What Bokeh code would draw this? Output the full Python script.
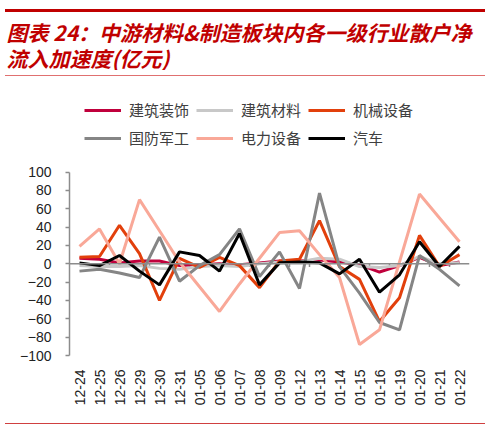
import numpy as np
from bokeh.plotting import figure
from bokeh.layouts import column
from bokeh.models import (Range1d, FixedTicker, Span, Legend, LegendItem, ColumnDataSource,
                          Div, Spacer)
from bokeh.core.properties import value
from bokeh.embed import file_html
from bokeh.resources import INLINE

# ---------------- data ----------------
dates = ["12-24", "12-25", "12-26", "12-29", "12-30", "12-31", "01-05", "01-06",
         "01-07", "01-08", "01-09", "01-12", "01-13", "01-14", "01-15", "01-16",
         "01-19", "01-20", "01-21", "01-22"]
jianzhu_zhuangshi = [6, 5, 1, 3, 3, -2, -1, 0, -1, 1, 3, 3, 4, 2, -1, -9, -2, 7, -2, 2]
jianzhu_cailiao = [-2, -3, -3, -2, -5, -6, -3, -2, -3, 0, 2, 2, 6, 5, -3, -4, -2, 8, 0, 1]
jixie_shebei = [7, 8, 42, 11, -40, 6, -4, 7, -2, -26, 3, 5, 47, -3, -17, -63, -37, 31, -3, 10]
guofang_jungong = [-8, -6, -10, -15, 29, -19, -2, 10, 38, -14, 13, -27, 77, -3, -32, -64, -72, 9, -6, -24]
dianli_shebei = [19, 38, 0, 70, 36, 2, -25, -52, -22, 6, 34, 36, 10, -15, -88, -72, 2, 76, 50, 24]
qiche = [1, -2, 9, -8, -23, 13, 9, -8, 33, -23, 1, 2, 1, -11, 5, -31, -12, 24, -3, 19]

series_names = ["建筑装饰", "建筑材料", "机械设备", "国防军工", "电力设备", "汽车"]
series_values = [jianzhu_zhuangshi, jianzhu_cailiao, jixie_shebei,
                 guofang_jungong, dianli_shebei, qiche]
series_colors = ["#C0003C", "#C8C8C8", "#E2400C", "#858585", "#F9A898", "#000000"]

y_ticks = [100, 80, 60, 40, 20, 0, -20, -40, -60, -80, -100]
y_tick_labels = ["100", "80", "60", "40", "20", "0", "−20", "−40", "−60", "−80", "−100"]

title_line1 = "图表 24：中游材料&制造板块内各一级行业散户净"
title_line2 = "流入加速度(亿元)"
source_text = "来源：WIND，中泰证券研究所"

# ---------------- layout constants ----------------
W = 480
HEAD_H = 53
MAIN_H = 318
FOOT_H = 20
RED = "#C00000"
CJK = "Noto Sans CJK SC"

def blank_fig(h):
    f = figure(width=W, height=h, output_backend="svg", toolbar_location=None,
               x_range=Range1d(0, W), y_range=Range1d(0, h),
               x_axis_type=None, y_axis_type=None, title=None,
               min_border=0, min_border_left=0, min_border_right=0,
               min_border_top=0, min_border_bottom=0, frame_align=False)
    f.outline_line_color = None
    f.xgrid.visible = False
    f.ygrid.visible = False
    return f

def rule(h, color):
    return Div(text="", width=W, height=h,
               styles={"background-color": color, "overflow": "hidden"})

# ---------------- header ----------------
head = blank_fig(HEAD_H)
head.text(x=[6], y=[HEAD_H - 14], text=[title_line1], text_font=value(CJK),
          text_font_size="21px", text_font_style="bold italic", text_color=RED,
          text_baseline="middle")
head.text(x=[6], y=[HEAD_H - 40], text=[title_line2], text_font=value(CJK),
          text_font_size="21px", text_font_style="bold italic", text_color=RED,
          text_baseline="middle")

# ---------------- main chart ----------------
FL, FR = 69, 11
FRAME_H = 268
px_100 = 82.5                      # pixel offset of +100 below frame top
px_per_unit = (FRAME_H - px_100) / 200.0
y_top = 100 + px_100 / px_per_unit

n = len(dates)
xs = list(range(n))

p = figure(width=W, height=MAIN_H, output_backend="svg", toolbar_location=None,
           x_range=Range1d(-0.5, n - 0.5), y_range=Range1d(-100, y_top),
           min_border_left=FL, min_border_right=FR, min_border_top=0,
           min_border_bottom=MAIN_H - FRAME_H, title=None, frame_align=False)
p.outline_line_color = None
p.xgrid.visible = False
p.ygrid.visible = False

ya = p.yaxis[0]
ya.ticker = FixedTicker(ticks=y_ticks)
ya.bounds = (-100, 100)
ya.major_label_overrides = {t: l for t, l in zip(y_ticks, y_tick_labels)}
ya.axis_line_color = "#8C8C8C"
ya.axis_line_width = 1.5
ya.major_tick_line_color = "#8C8C8C"
ya.major_tick_line_width = 1.5
ya.major_tick_out = 4
ya.major_tick_in = 0
ya.minor_tick_line_color = None
ya.major_label_standoff = 14
ya.major_label_text_font = "Liberation Sans"
ya.major_label_text_font_size = "14px"
ya.major_label_text_color = "#222222"

xa = p.xaxis[0]
xa.ticker = FixedTicker(ticks=xs)
xa.major_label_overrides = {i: d for i, d in enumerate(dates)}
xa.major_label_orientation = np.pi / 2
xa.axis_line_color = None
xa.major_tick_line_color = None
xa.minor_tick_line_color = None
xa.major_label_standoff = 8
xa.major_label_text_font = "Liberation Sans"
xa.major_label_text_font_size = "14px"
xa.major_label_text_color = "#222222"

p.add_layout(Span(location=0, dimension="width", line_color="#8C8C8C", line_width=1.5))
bounds = [i + 0.5 for i in range(n - 1)]
p.segment(x0=bounds, y0=[0] * len(bounds), x1=bounds, y1=[-3.5] * len(bounds),
          line_color="#8C8C8C", line_width=1.5)

items = []
for name, vals, col in zip(series_names, series_values, series_colors):
    src = ColumnDataSource(dict(x=xs, y=vals))
    r = p.line("x", "y", source=src, line_color=col, line_width=3)
    items.append(LegendItem(label=name, renderers=[r]))

legend = Legend(items=items, location=(15, FRAME_H - 61), orientation="horizontal",
                ncols=3, glyph_width=37, glyph_height=20, label_height=20,
                label_width=60, label_standoff=8, spacing=7, padding=0, margin=0,
                border_line_color=None, background_fill_alpha=0,
                label_text_font=CJK, label_text_font_size="15px",
                label_text_color="#404040")
p.add_layout(legend)

# ---------------- footer ----------------
foot = blank_fig(FOOT_H)
foot.text(x=[6], y=[FOOT_H - 10], text=[source_text], text_font=value(CJK),
          text_font_size="13.5px", text_color=RED, text_baseline="middle")

layout = column(
    Spacer(width=W, height=4),
    rule(3, RED),
    head,
    rule(1, "#E07070"),
    Spacer(width=W, height=9),
    p,
    Spacer(width=W, height=10),
    rule(1, "#D04040"),
    foot,
    spacing=0,
)
open("out.html", "w").write(file_html(layout, INLINE))
